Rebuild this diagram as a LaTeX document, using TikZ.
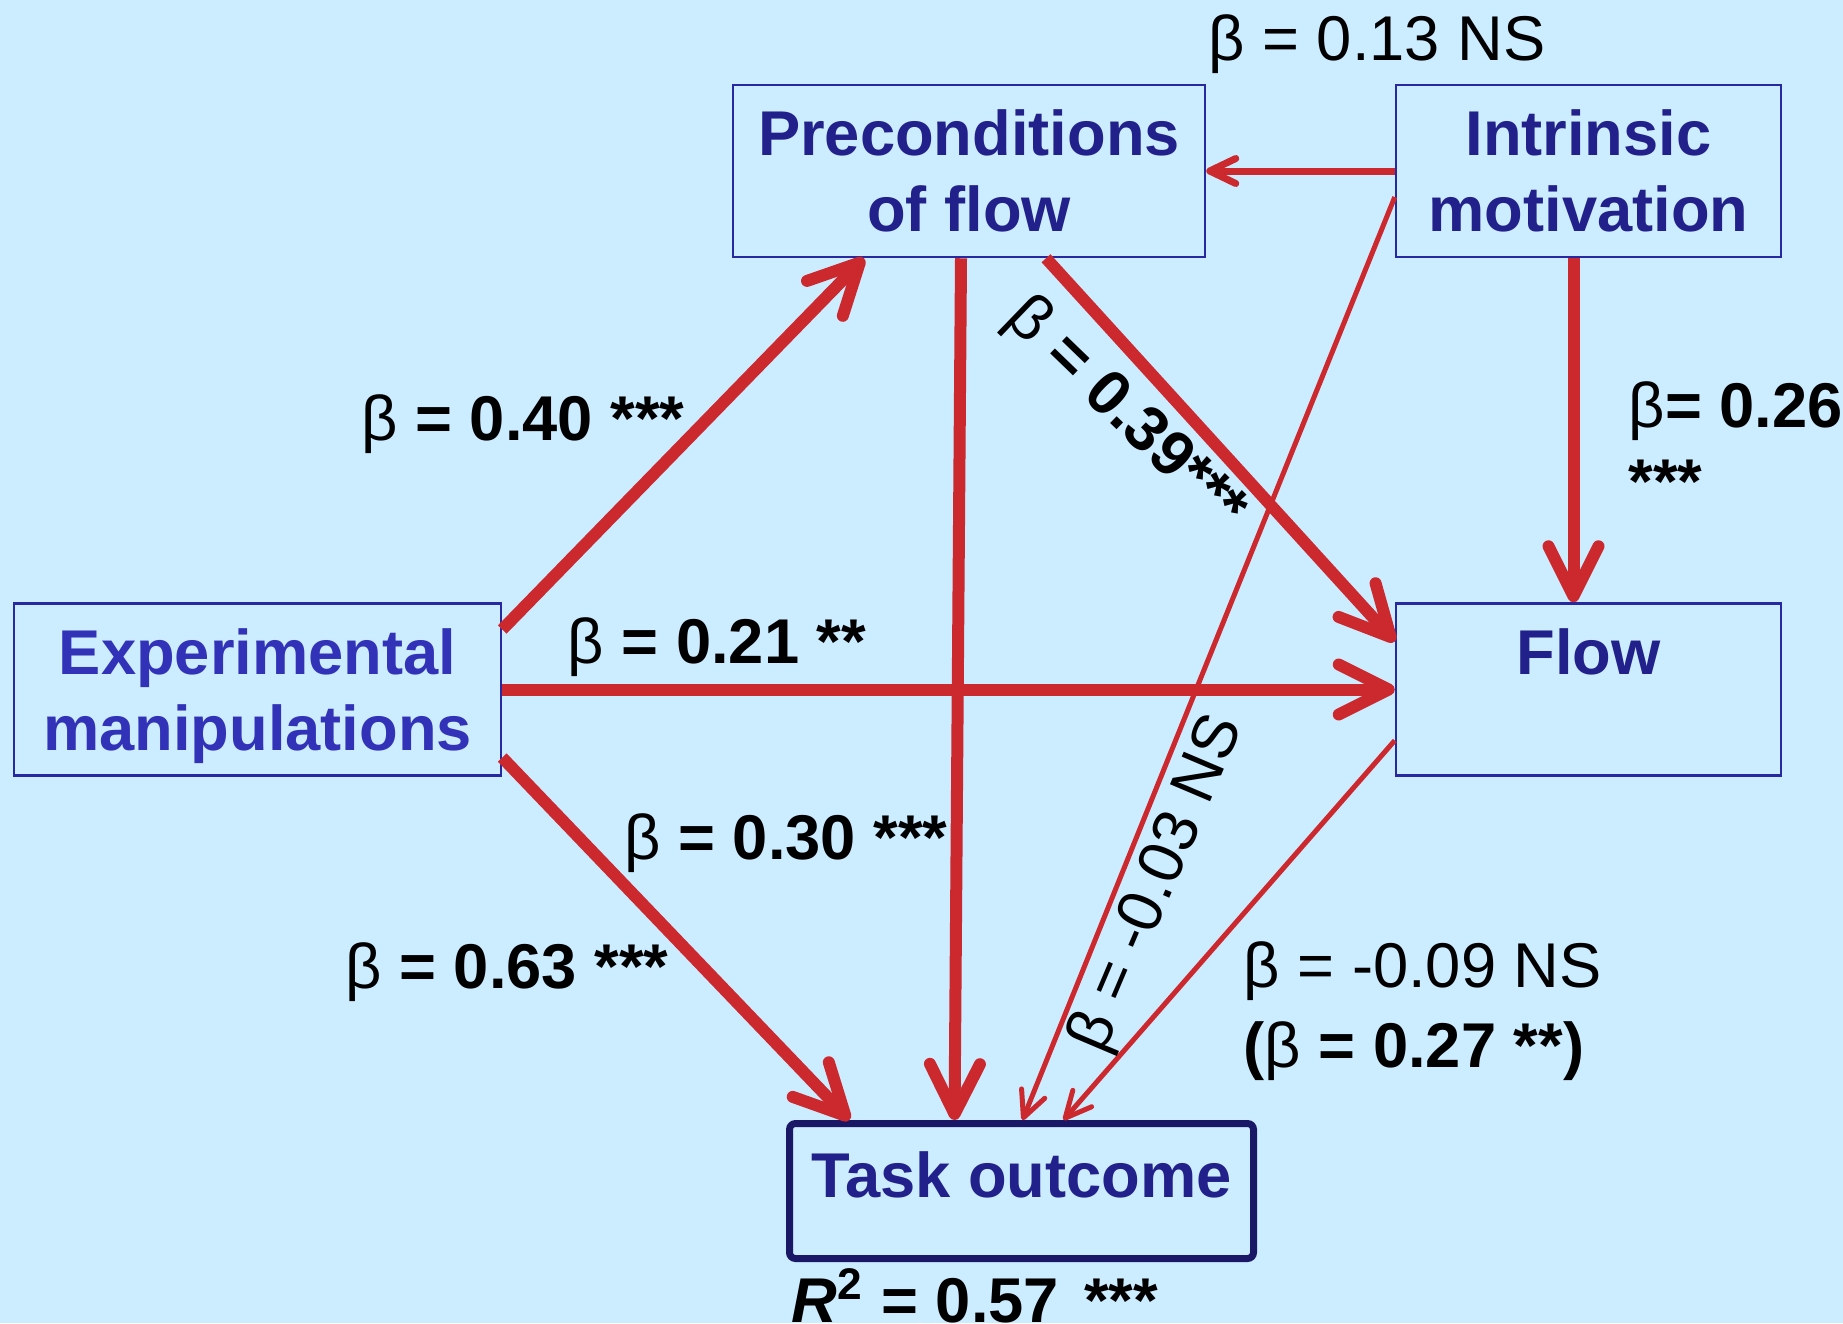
\documentclass[tikz,border=0pt]{standalone}
\usepackage{fontspec}
\setmainfont{Liberation Sans}
\usepackage{xcolor}
\usetikzlibrary{arrows.meta, calc}
\definecolor{bgblue}{RGB}{204,236,255}
\definecolor{pathred}{RGB}{204,41,46}
\definecolor{boxline}{RGB}{40,40,160}
\definecolor{boxtext}{RGB}{34,32,138}
\definecolor{exptext}{RGB}{50,50,185}
\definecolor{taskline}{RGB}{26,24,102}
\def\thickW{1.2mm}
\def\midW{0.7mm}
\def\thinW{0.5mm}
\newcommand{\bet}{\textmd{β}}

\begin{document}
\begin{tikzpicture}[
    x=0.1mm, y=-0.1mm,
    font=\fontsize{18}{21.6}\selectfont,
    box/.style={draw=boxline, line width=0.25mm, align=center, inner sep=0pt,
        minimum height=17.2mm, text depth=0pt, text=boxtext,
        font=\fontsize{18}{21.6}\selectfont\bfseries},
    coef/.style={inner sep=0pt, anchor=base, font=\fontsize{18}{21.6}\selectfont\bfseries},
    ns/.style={inner sep=0pt, anchor=base},
    arr/.style={draw=pathred, line width=\thickW, -{Straight Barb[length=5mm, width=5mm, round]}},
    midarr/.style={draw=pathred, line width=\midW, -{Straight Barb[length=2.6mm, width=2.5mm, round]}},
    thinarr/.style={draw=pathred, line width=\thinW, -{Straight Barb[length=2.6mm, width=2.5mm, round]}}
]
\fill[bgblue] (0,0) rectangle (1843,1323);
\useasboundingbox (0,0) rectangle (1843,1323);

% boxes
\node[box, minimum width=47.2mm] (pre) at (969,171) {Preconditions\\of flow};
\node[box, minimum width=38.5mm] (intr) at (1588.5,171) {Intrinsic\\motivation};
\node[box, minimum width=48.7mm, text=exptext] (exp) at (257.5,689.5) {Experimental\\manipulations};
\node[box, minimum width=38.5mm] (flow) at (1588.5,689.5) {Flow\\\mbox{}};
\node[box, draw=taskline, line width=0.7mm, rounded corners=0.6mm, minimum width=46.4mm,
    minimum height=13.5mm, text height=4.6mm, text depth=3.4mm] (task) at (1021.5,1191) {Task outcome};

% paths
\draw[arr] ($(exp.east)+(0,-60)$) -- ($(pre.south)+(-105,0)$);
\draw[arr] (exp.east) -- (flow.west);
\draw[arr] ($(exp.east)+(0,68)$) -- ($(task.north)+(-172,0)$);
\draw[arr] ($(pre.south)+(-8,0)$) -- ($(task.north)+(-67,0)$);
\draw[arr] ($(pre.south)+(77,0)$) -- ($(flow.west)+(0,-48)$);
\draw[midarr] (intr.west) -- (pre.east);
\draw[arr] ($(intr.south)+(-15,0)$) -- ($(flow.north)+(-15,0)$);
\draw[thinarr] ($(intr.west)+(0,26)$) -- ($(task.north)+(1,0)$);
\draw[thinarr] ($(flow.west)+(0,51)$) -- ($(task.north)+(42,0)$);

% coefficients
\node[ns] (b13) at (1377,60) {\bet{} = 0.13 NS};
\node[coef] (b40) at (523,440) {\bet{} = 0.40 ***};
\node[coef] (b21) at (717,663) {\bet{} = 0.21 **};
\node[coef] (b30) at (786,859) {\bet{} = 0.30 ***};
\node[coef] (b63) at (507,988) {\bet{} = 0.63 ***};
\node[coef, anchor=base west, align=left] (b26) at (1628,503) {\bet= 0.26\\***};
\node[coef, anchor=center, rotate=-44] (b39) at (1125,415) {\bet{} = 0.39***};
\node[ns, anchor=center, rotate=67] (b03) at (1158,884) {\bet{} = -0.03 NS};
\node[ns, anchor=base west, align=left] (b09) at (1243,1067) {\bet{} = -0.09 NS\\[0.4mm]\textbf{(\bet{} = 0.27 **)}};
\node[coef] (r2) at (975,1322) {\textit{R}\textsuperscript{2} = 0.57\hspace{0.4em}***};
\end{tikzpicture}
\end{document}
